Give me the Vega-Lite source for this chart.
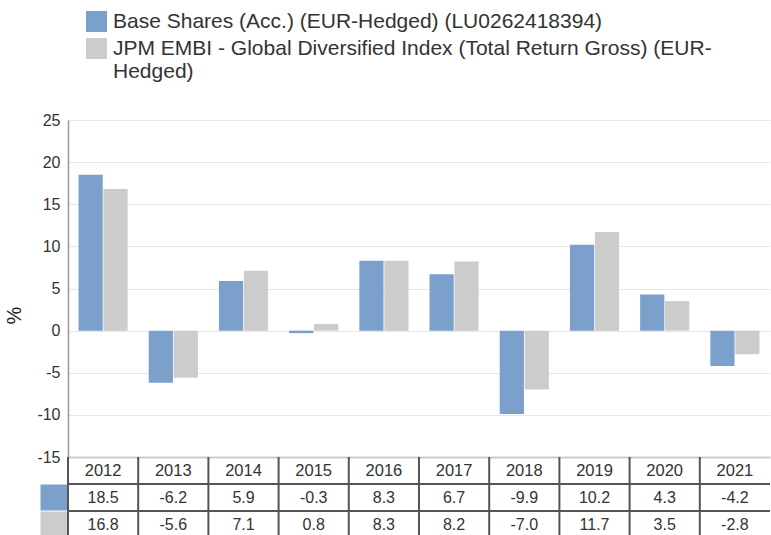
{
  "$schema": "https://vega.github.io/schema/vega-lite/v6.json",
  "padding": {"left": 4, "top": 11, "right": 0, "bottom": 0},
  "background": "white",
  "config": {
    "font": "Liberation Sans",
    "view": {"stroke": null}
  },
  "bounds": "flush",
  "spacing": 0,
  "data": {
    "values": [
      {"year": 2012, "series": "Base Shares (Acc.) (EUR-Hedged) (LU0262418394)", "value": 18.5},
      {"year": 2013, "series": "Base Shares (Acc.) (EUR-Hedged) (LU0262418394)", "value": -6.2},
      {"year": 2014, "series": "Base Shares (Acc.) (EUR-Hedged) (LU0262418394)", "value": 5.9},
      {"year": 2015, "series": "Base Shares (Acc.) (EUR-Hedged) (LU0262418394)", "value": -0.3},
      {"year": 2016, "series": "Base Shares (Acc.) (EUR-Hedged) (LU0262418394)", "value": 8.3},
      {"year": 2017, "series": "Base Shares (Acc.) (EUR-Hedged) (LU0262418394)", "value": 6.7},
      {"year": 2018, "series": "Base Shares (Acc.) (EUR-Hedged) (LU0262418394)", "value": -9.9},
      {"year": 2019, "series": "Base Shares (Acc.) (EUR-Hedged) (LU0262418394)", "value": 10.2},
      {"year": 2020, "series": "Base Shares (Acc.) (EUR-Hedged) (LU0262418394)", "value": 4.3},
      {"year": 2021, "series": "Base Shares (Acc.) (EUR-Hedged) (LU0262418394)", "value": -4.2},
      {"year": 2012, "series": "JPM EMBI - Global Diversified Index (Total Return Gross) (EUR-Hedged)", "value": 16.8},
      {"year": 2013, "series": "JPM EMBI - Global Diversified Index (Total Return Gross) (EUR-Hedged)", "value": -5.6},
      {"year": 2014, "series": "JPM EMBI - Global Diversified Index (Total Return Gross) (EUR-Hedged)", "value": 7.1},
      {"year": 2015, "series": "JPM EMBI - Global Diversified Index (Total Return Gross) (EUR-Hedged)", "value": 0.8},
      {"year": 2016, "series": "JPM EMBI - Global Diversified Index (Total Return Gross) (EUR-Hedged)", "value": 8.3},
      {"year": 2017, "series": "JPM EMBI - Global Diversified Index (Total Return Gross) (EUR-Hedged)", "value": 8.2},
      {"year": 2018, "series": "JPM EMBI - Global Diversified Index (Total Return Gross) (EUR-Hedged)", "value": -7.0},
      {"year": 2019, "series": "JPM EMBI - Global Diversified Index (Total Return Gross) (EUR-Hedged)", "value": 11.7},
      {"year": 2020, "series": "JPM EMBI - Global Diversified Index (Total Return Gross) (EUR-Hedged)", "value": 3.5},
      {"year": 2021, "series": "JPM EMBI - Global Diversified Index (Total Return Gross) (EUR-Hedged)", "value": -2.8}
    ]
  },
  "resolve": {"scale": {"x": "independent", "y": "independent"}, "legend": {"color": "independent"}},
  "vconcat": [
    {
      "width": 702,
      "height": 337,
      "mark": {"type": "bar"},
      "encoding": {
        "x": {
          "field": "year", "type": "ordinal",
          "scale": {"paddingInner": 0.3, "paddingOuter": 0.15},
          "axis": {"labels": false, "ticks": false, "title": null, "domainColor": "#cccccc", "domainWidth": 2, "grid": false}
        },
        "xOffset": {
          "field": "series", "type": "nominal",
          "scale": {"paddingInner": 0.03},
          "sort": ["Base Shares (Acc.) (EUR-Hedged) (LU0262418394)", "JPM EMBI - Global Diversified Index (Total Return Gross) (EUR-Hedged)"]
        },
        "y": {
          "field": "value", "type": "quantitative",
          "scale": {"domain": [-15, 25], "nice": false, "zero": false},
          "axis": {
            "values": [-15, -10, -5, 0, 5, 10, 15, 20, 25],
            "labelExpr": "'' + datum.value",
            "grid": true, "gridColor": "#e6e6e6", "gridWidth": 1,
            "domain": true, "domainColor": "#999999", "domainWidth": 1.5,
            "ticks": false, "tickSize": 0,
            "labelFontSize": 16, "labelColor": "#333333", "labelPadding": 8,
            "title": "%", "titleFontSize": 20, "titleFontWeight": "normal", "titleColor": "#222222", "titlePadding": 12,
            "titleY": 195
          }
        },
        "color": {
          "field": "series", "type": "nominal",
          "scale": {
            "domain": ["Base Shares (Acc.) (EUR-Hedged) (LU0262418394)", "JPM EMBI - Global Diversified Index (Total Return Gross) (EUR-Hedged)"],
            "range": ["#7ba0cb", "#cccccc"]
          },
          "legend": {
            "orient": "none", "legendX": 18, "legendY": -109,
            "title": null, "symbolType": "square", "symbolSize": 441, "symbolStrokeWidth": 0,
            "labelFontSize": 21, "labelColor": "#333333", "labelLimit": 800, "labelOffset": 6, "rowPadding": 5,
            "labelExpr": "datum.label == 'JPM EMBI - Global Diversified Index (Total Return Gross) (EUR-Hedged)' ? ['JPM EMBI - Global Diversified Index (Total Return Gross) (EUR-', 'Hedged)'] : datum.label"
          }
        }
      }
    },
    {
      "width": 702,
      "height": 81,
      "layer": [
        {
          "transform": [{"filter": "datum.series == 'Base Shares (Acc.) (EUR-Hedged) (LU0262418394)'"}],
          "mark": {"type": "rule", "color": "#555555", "strokeWidth": 2},
          "encoding": {
            "x": {"field": "year", "type": "ordinal", "bandPosition": 0, "scale": {"paddingInner": 0, "paddingOuter": 0}, "axis": null}
          }
        },
        {
          "transform": [{"filter": "datum.year == 2012"}],
          "mark": {"type": "rule", "color": "#555555", "strokeWidth": 2},
          "encoding": {
            "y": {
              "field": "series", "type": "nominal", "bandPosition": 0,
              "scale": {"domain": ["Year", "Base Shares (Acc.) (EUR-Hedged) (LU0262418394)", "JPM EMBI - Global Diversified Index (Total Return Gross) (EUR-Hedged)"], "paddingInner": 0, "paddingOuter": 0},
              "axis": {
                "labels": false, "domain": false, "grid": false, "title": null,
                "ticks": true, "tickSize": 28, "tickWidth": 26,
                "values": ["Base Shares (Acc.) (EUR-Hedged) (LU0262418394)", "JPM EMBI - Global Diversified Index (Total Return Gross) (EUR-Hedged)"],
                "tickColor": {"condition": {"test": "datum.value == 'Base Shares (Acc.) (EUR-Hedged) (LU0262418394)'", "value": "#7ba0cb"}, "value": "#cccccc"}
              }
            }
          }
        },
        {
          "transform": [{"filter": "datum.series == 'Base Shares (Acc.) (EUR-Hedged) (LU0262418394)'"}],
          "mark": {"type": "text", "fontSize": 16.5, "color": "#333333"},
          "encoding": {
            "x": {"field": "year", "type": "ordinal"},
            "y": {"datum": "Year", "type": "nominal"},
            "text": {"field": "year", "type": "ordinal"}
          }
        },
        {
          "transform": [{"calculate": "replace(format(datum.value, '.1f'), '\u2212', '-')", "as": "label"}],
          "mark": {"type": "text", "fontSize": 16, "color": "#333333"},
          "encoding": {
            "x": {"field": "year", "type": "ordinal"},
            "y": {"field": "series", "type": "nominal"},
            "text": {"field": "label", "type": "nominal"}
          }
        }
      ]
    }
  ]
}
